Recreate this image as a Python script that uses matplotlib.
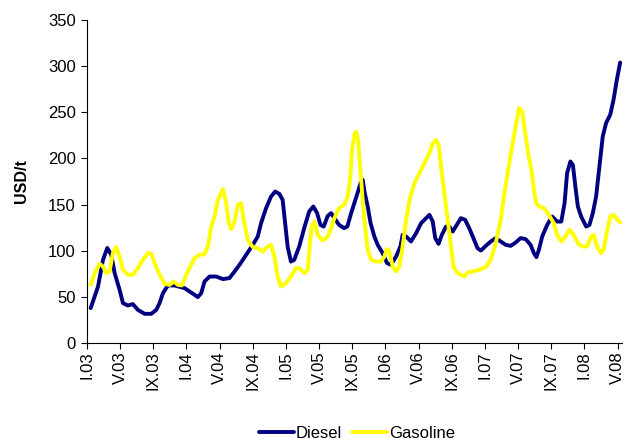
import matplotlib
matplotlib.use("Agg")
import matplotlib.pyplot as plt

plt.rcParams['font.family'] = ['Liberation Sans', 'DejaVu Sans']

# x = months since January 2003
diesel_month = [0.45, 1.33, 1.93, 2.45, 2.94, 3.34, 3.94, 4.34, 4.94, 5.54, 6.14, 6.95, 7.76, 8.36, 8.76,
                9.16, 9.76, 10.57, 11.77, 12.37, 12.98, 13.37, 13.78, 14.18, 14.78, 15.59, 16.39, 17.19,
                17.8, 18.4, 19.2, 20.0, 20.6, 21.0, 21.6, 22.2, 22.7, 23.2, 23.6, 23.9, 24.2, 24.6, 25.0,
                25.6, 26.2, 26.8, 27.3, 27.76, 28.16, 28.55, 29.04, 29.45, 29.84, 30.4, 31.0, 31.4, 31.86,
                32.5, 33.0, 33.25, 33.5, 33.86, 34.2, 34.66, 35.06, 35.66, 36.19, 36.67, 37.28, 37.8,
                38.07, 38.5, 39.08, 39.7, 40.3, 40.9, 41.3, 41.7, 42.0, 42.4, 42.8, 43.3, 43.7, 44.1,
                44.6, 45.1, 45.6, 46.1, 46.6, 47.1, 47.5, 48.1, 48.7, 49.3, 49.9, 50.5, 51.1, 51.7, 52.3,
                52.9, 53.5, 53.9, 54.2, 54.5, 54.9, 55.5, 56.1, 56.7, 57.2, 57.6, 57.9, 58.3, 58.6, 58.9,
                59.2, 59.6, 60.2, 60.6, 61.0, 61.4, 61.8, 62.2, 62.6, 63.1, 63.5, 63.9, 64.3]
diesel_usd = [37.9, 61, 90, 103, 95.6, 75.8, 57.7, 43.3, 40.7, 42.2, 36, 31.7, 31.7, 36, 43.3,
              54, 62.4, 62.4, 59.5, 55.9, 52.3, 49.8, 54, 66.7, 72.1, 72.1, 69.3, 70.4,
              77.5, 84.8, 95.6, 106.4, 115.4, 129.9, 146.1, 158.7, 164.1, 161.6, 155.1, 129.9, 104.6, 88.3, 90.2,
              104.6, 124.5, 142.5, 147.9, 140.7, 128, 126.2, 137.8, 140.7, 135.3, 128, 124.5, 126.2, 140.7,
              158.7, 173.2, 176.8, 162.4, 147.9, 130, 115.4, 106.4, 97.4, 86.6, 84.8, 93.8, 104.6,
              117.2, 115.4, 110, 119.1, 129.9, 135.3, 138.9, 131.6, 113.7, 107.5, 117.2, 126.2, 126.2, 120.8,
              128, 135.3, 133.5, 124.5, 113.7, 102.8, 100.2, 105.3, 110, 113.7, 110, 106.4, 105.3, 108.9, 113.7,
              112.6, 106.4, 97.4, 93.1, 101, 115.4, 128, 137, 131.6, 131.6, 151.6, 184, 196.6, 193, 169.5,
              147.9, 137, 126.2, 128, 140.7, 158.7, 191.2, 223.7, 238.2, 247.2, 263.4, 285, 303.8]

gasoline_month = [0.45, 0.93, 1.53, 1.93, 2.33, 2.73, 3.13, 3.54, 3.94, 4.34, 4.94, 5.54, 6.14, 6.75, 7.35,
                  7.76, 8.16, 8.76, 9.36, 9.96, 10.49, 10.96, 11.45, 11.97, 12.57, 12.98, 13.58, 14.18,
                  14.58, 14.99, 15.39, 15.78, 16.39, 16.8, 17.1, 17.4, 17.8, 18.2, 18.6, 18.9, 19.4, 20.0,
                  20.6, 21.2, 21.8, 22.2, 22.6, 23.0, 23.4, 24.0, 24.6, 25.2, 25.6, 26.23, 26.63, 26.83,
                  27.1, 27.43, 27.83, 28.43, 29.04, 29.45, 29.84, 30.4, 31.0, 31.45, 31.77, 31.93, 32.25,
                  32.46, 32.7, 32.97, 33.25, 33.54, 33.86, 34.26, 34.87, 35.47, 35.87, 36.15, 36.47, 36.87,
                  37.28, 37.67, 38.07, 38.5, 38.9, 39.5, 40.1, 40.7, 41.3, 41.7, 42.1, 42.4, 42.7, 43.1,
                  43.5, 43.9, 44.2, 44.7, 45.1, 45.5, 45.9, 46.5, 47.3, 48.1, 48.7, 49.3, 49.9, 50.4, 50.9,
                  51.2, 51.7, 52.1, 52.5, 52.8, 53.2, 53.6, 53.9, 54.2, 54.7, 55.1, 55.7, 56.3, 56.7, 57.2,
                  57.7, 58.2, 58.7, 59.2, 59.7, 60.3, 60.8, 61.1, 61.5, 62.0, 62.3, 62.7, 63.1, 63.5, 63.9, 64.3]
gasoline_usd = [63, 75.8, 85.8, 83, 75.8, 77.5, 97.4, 104, 93.8, 79.4, 74, 74, 81.2, 90.2, 97.4,
                96.7, 86.6, 74, 64.2, 63, 66.7, 63, 62.4, 74, 84.8, 92, 95.6, 96.3,
                104.6, 126.2, 137, 155.1, 166.7, 151.6, 129.9, 123.4, 131.6, 149.7, 151.6, 133.5, 111.8, 104,
                102.8, 99.2, 104.6, 106.4, 93.8, 72.1, 61.3, 65, 72.1, 81.2, 81, 75.8, 79.4, 101,
                126.2, 131.6, 117.2, 111, 115.4, 124.5, 135.3, 146.1, 149.7, 158.7, 180.4, 205.7, 225.5,
                229, 220, 187.6, 155.1, 126.2, 101, 90.2, 88.3, 88.3, 93.8, 101.8, 99.2, 83,
                77.5, 83, 104.6, 133.5, 155.1, 173.2, 184, 194.9, 205.7, 216.5, 220.1, 214.7, 191.2, 162.4,
                133.5, 104.6, 83, 75.8, 74, 72.1, 76.4, 77.5, 79.4, 82.3, 90.2, 108.3, 133.5, 166, 193,
                209.3, 234.5, 254.4, 250.7, 230.9, 205.7, 187.6, 166, 150.8, 147.2, 146.1, 138.9, 129.9, 117.2, 110,
                115.4, 122.7, 117.2, 108.3, 104.6, 104.6, 115.4, 117.2, 104.6, 97.4, 101, 120.8, 137, 138.9, 134.2, 130.6]

tick_months = list(range(0, 65, 4))
tick_labels = ['I.03', 'V.03', 'IX.03', 'I.04', 'V.04', 'IX.04', 'I.05', 'V.05', 'IX.05',
               'I.06', 'V.06', 'IX.06', 'I.07', 'V.07', 'IX.07', 'I.08', 'V.08']

fig = plt.figure(figsize=(6.3, 4.41), dpi=100)
ax = fig.add_axes([0.138, 0.222, 0.849, 0.733])

ax.plot(diesel_month, diesel_usd, color='#000080', linewidth=2.8, label='Diesel',
        solid_joinstyle='round', solid_capstyle='round')
ax.plot(gasoline_month, gasoline_usd, color='#FFFF00', linewidth=2.8, label='Gasoline',
        solid_joinstyle='round', solid_capstyle='round')

ax.set_xlim(0, 64.5)
ax.set_ylim(0, 350)
ax.set_yticks(range(0, 351, 50))
ax.set_xticks(tick_months)
ax.set_xticklabels(tick_labels, rotation=90)
ax.tick_params(axis='both', labelsize=12, direction='out', length=4, width=0.8, colors='black')
ax.tick_params(axis='x', pad=2)
ax.tick_params(axis='y', pad=4)

for side in ['top', 'right']:
    ax.spines[side].set_visible(False)
for side in ['left', 'bottom']:
    ax.spines[side].set_color('black')
    ax.spines[side].set_linewidth(0.8)

ax.set_ylabel('USD/t', fontsize=11.5, fontweight='bold', labelpad=14)

fig.legend(loc='lower center', bbox_to_anchor=(0.567, -0.034), ncol=2, frameon=False,
           fontsize=12, handlelength=2.1, handletextpad=0.1, columnspacing=0.6)

fig.savefig('out.png', dpi=100)
